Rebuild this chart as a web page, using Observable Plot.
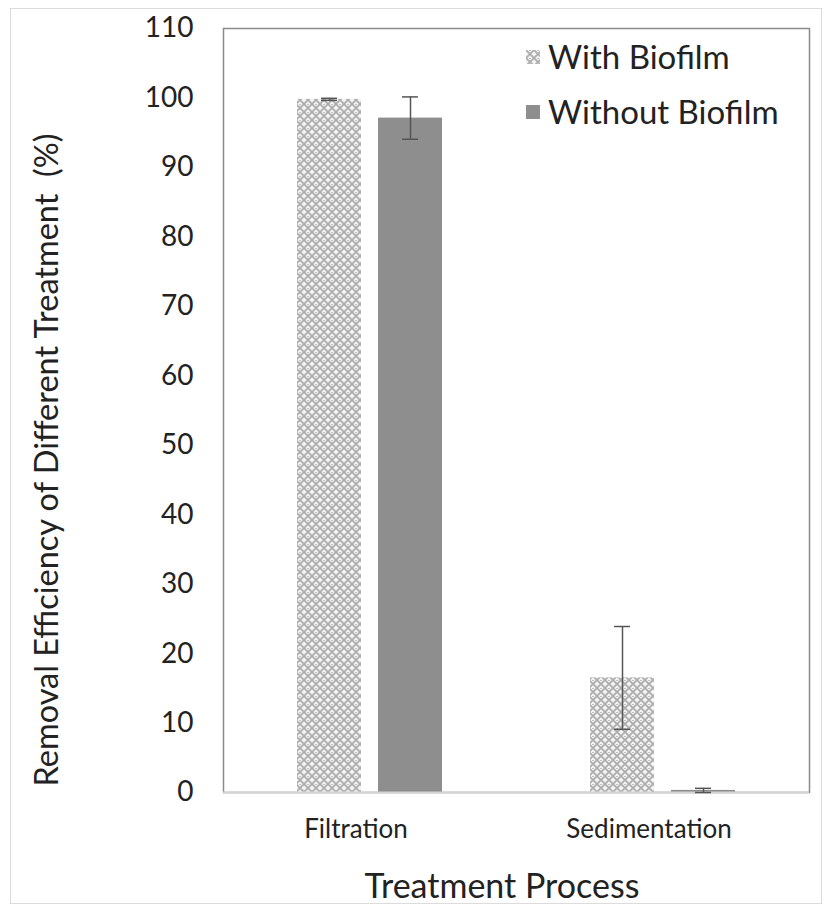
<!DOCTYPE html>
<html>
<head>
<meta charset="utf-8">
<script src="https://cdn.jsdelivr.net/npm/d3@7"></script>
<script src="https://cdn.jsdelivr.net/npm/@observablehq/plot@0.6"></script>
<style>
  html, body { margin: 0; padding: 0; background: #fff; }
  #wrap { position: relative; width: 833px; height: 919px; overflow: hidden; font-family: Lato, "Open Sans", sans-serif; color: #222; }
  #border { position: absolute; left: 10px; top: 8px; width: 812px; height: 896px; border: 1.5px solid #dcdcdc; box-sizing: border-box; }
  #chart { position: absolute; left: 0; top: 0; }
  .ttl { position: absolute; white-space: nowrap; }
  #xlabel { left: 502px; top: 885px; font-size: 34px; line-height: 1; transform: translate(-50%, -50%); }
  #ylabel { left: 46px; top: 460px; font-size: 32.5px; line-height: 1; transform: translate(-50%, -50%) rotate(-90deg); }
  .leg { position: absolute; font-size: 33px; line-height: 1; white-space: nowrap; }
  .sw { position: absolute; width: 14px; height: 14px; }
</style>
</head>
<body>
<svg width="0" height="0" style="position:absolute">
  <defs>
    <pattern id="hatch" patternUnits="userSpaceOnUse" width="8" height="8">
      <rect width="8" height="8" fill="#f2f2f2"></rect>
      <path d="M0,0 L8,8 M8,0 L0,8" stroke="#acacac" stroke-width="1.7"></path>
      <circle cx="4" cy="0" r="0.9" fill="#acacac"></circle>
    </pattern>
  </defs>
</svg>
<div id="wrap">
  <div id="border"></div>
  <div id="chart"></div>
  <div id="ylabel" class="ttl">Removal Efficiency of Different Treatment&nbsp;&nbsp;(%)</div>
  <div id="xlabel" class="ttl">Treatment Process</div>
  <svg class="sw" style="left:526px; top:50px;"><rect width="14" height="14" fill="url(#hatch)"></rect></svg>
  <div class="leg" style="left:548px; top:40px;">With Biofilm</div>
  <svg class="sw" style="left:526px; top:105px;"><rect width="14" height="14" fill="#8e8e8e"></rect></svg>
  <div class="leg" style="left:548px; top:95px;">Without Biofilm</div>
</div>
<script>
// ---- data ----
const processes = ["Filtration", "Sedimentation"];
const series = ["With Biofilm", "Without Biofilm"];
const withBiofilm = [99.8, 16.5];
const withBiofilmErr = [0.15, 7.4];
const withoutBiofilm = [97.1, 0.3];
const withoutBiofilmErr = [3.05, 0.3];
const yTicks = [0, 10, 20, 30, 40, 50, 60, 70, 80, 90, 100, 110];
const seriesFills = ["url(#hatch)", "#8e8e8e"];

const data = [];
processes.forEach((p, i) => {
  data.push({process: p, series: series[0], value: withBiofilm[i], err: withBiofilmErr[i]});
  data.push({process: p, series: series[1], value: withoutBiofilm[i], err: withoutBiofilmErr[i]});
});

const chart = Plot.plot({
  width: 833,
  height: 919,
  marginLeft: 223,
  marginRight: 24,
  marginTop: 28,
  marginBottom: 127,
  style: {fontFamily: "Lato, 'Open Sans', sans-serif", fontSize: "28px", color: "#222", background: "transparent"},
  fx: {domain: processes, padding: 0, label: null},
  x: {domain: series, paddingInner: 0.207, paddingOuter: 0.893, axis: null},
  y: {domain: [0, 110], ticks: yTicks, tickSize: 0, tickPadding: 30, label: null},
  color: {domain: series, range: seriesFills},
  marks: [
    Plot.axisFx({anchor: "bottom", tickSize: 0, tickPadding: 27, fontSize: 26, dx: -14, label: null}),
    Plot.frame({facet: "super", stroke: "#8a8a8a", strokeWidth: 1.5}),
    Plot.barY(data, {fx: "process", x: "series", y: "value", fill: "series"}),
    Plot.ruleY([0], {stroke: "#d4d4d4", strokeWidth: 2}),
    Plot.ruleX(data, {fx: "process", x: "series", y1: d => d.value - d.err, y2: d => d.value + d.err, stroke: "#555", strokeWidth: 1.5}),
    Plot.tickY(data, {fx: "process", x: "series", y: d => d.value - d.err, stroke: "#555", strokeWidth: 1.5, insetLeft: 24, insetRight: 24}),
    Plot.tickY(data, {fx: "process", x: "series", y: d => d.value + d.err, stroke: "#555", strokeWidth: 1.5, insetLeft: 24, insetRight: 24})
  ]
});
document.getElementById("chart").appendChild(chart);
</script>
</body>
</html>
